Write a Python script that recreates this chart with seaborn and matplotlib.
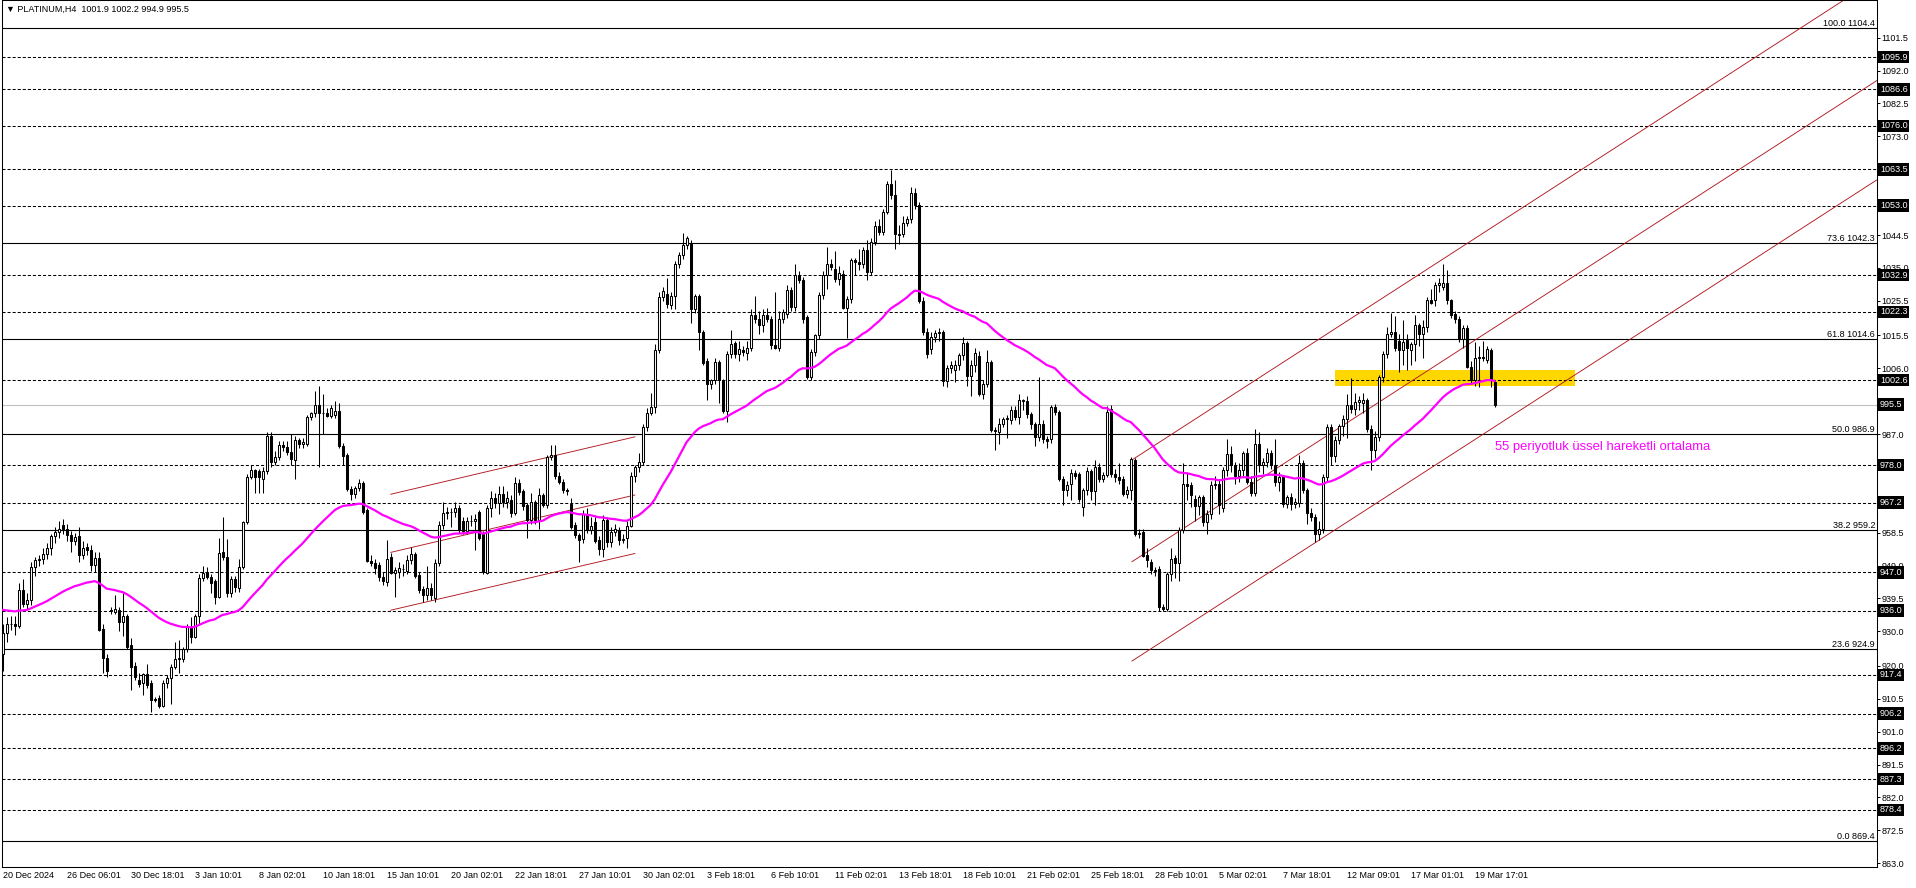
import numpy as np
import matplotlib
matplotlib.use('Agg')
import matplotlib.pyplot as plt
import matplotlib.transforms as mtransforms
import seaborn as sns

# ── Style ──────────────────────────────────────────────────────────────────────
sns.set_style('white')
plt.rcParams.update({
    'font.family': ['Liberation Sans', 'DejaVu Sans'],
    'axes.edgecolor': 'black', 'axes.linewidth': 0.75,
    'xtick.color': 'black', 'ytick.color': 'black',
    'text.color': 'black', 'lines.scale_dashes': False,
})
MAGENTA = '#FF00FF'; CHANNEL_RED = '#B01820'; GOLD = '#FFD700'; SILVER = '#C0C0C0'

# ── Data: PLATINUM H4 candles ──────────────────────────────────────────────────
opens = [
    923.5, 929.5, 932.0, 932.2, 931.5, 942.0, 938.0, 939.0, 948.7, 950.6,
    950.8, 952.2, 954.1, 957.5, 958.6, 960.6, 959.7, 957.8, 956.0, 957.4,
    952.0, 954.5, 953.5, 949.2, 951.2, 930.6, 922.4, 936.0, 935.5, 936.2,
    932.8, 934.3, 926.0, 920.0, 915.9, 915.2, 917.7, 915.0, 910.4, 910.6,
    908.4, 915.0, 916.4, 919.8, 921.9, 922.0, 925.0, 930.9, 928.5, 934.4,
    945.3, 947.2, 945.8, 944.4, 940.0, 953.0, 951.6, 941.0, 945.0, 942.5,
    948.7, 961.7, 974.7, 976.6, 976.4, 974.0, 976.4, 986.3, 979.0, 980.4,
    983.9, 983.3, 981.8, 979.6, 985.2, 984.0, 984.2, 991.9, 993.0, 995.3,
    993.0, 993.0, 992.3, 992.5, 993.7, 983.6, 980.9, 971.0, 969.6, 971.4,
    972.9, 965.0, 950.3, 949.8, 949.1, 945.7, 944.3, 951.5, 946.9, 947.0,
    947.9, 947.5, 950.6, 952.3, 946.2, 942.3, 940.4, 942.5, 939.5, 949.6,
    960.6, 964.2, 964.6, 964.6, 965.5, 962.0, 958.9, 961.8, 961.8, 964.5,
    958.2, 946.9, 965.5, 968.6, 967.0, 969.6, 967.3, 968.0, 964.2, 972.9,
    970.6, 966.4, 962.1, 967.4, 962.1, 969.3, 966.4, 980.4, 980.9, 974.8,
    973.2, 970.8, 966.7, 960.6, 957.8, 956.6, 964.0, 959.2, 961.6, 956.3,
    953.9, 962.3, 955.9, 958.6, 959.2, 956.5, 956.9, 960.5, 974.8, 977.5,
    979.0, 989.0, 993.1, 994.8, 1011.2, 1026.6, 1027.6, 1024.2, 1026.9, 1036.2,
    1038.6, 1041.5, 1041.8, 1023.2, 1026.9, 1016.5, 1008.1, 1001.6, 1002.5, 1007.8,
    1002.5, 993.8, 1010.2, 1013.3, 1010.0, 1011.2, 1010.5, 1012.0, 1021.3, 1020.3,
    1018.4, 1021.5, 1020.3, 1012.6, 1011.9, 1020.3, 1021.8, 1028.5, 1023.7, 1032.9,
    1031.6, 1020.8, 1003.5, 1010.7, 1015.5, 1027.1, 1032.9, 1036.2, 1034.8, 1031.9,
    1033.2, 1023.5, 1026.1, 1037.2, 1036.8, 1036.2, 1040.3, 1033.8, 1042.5, 1047.0,
    1045.4, 1051.2, 1059.2, 1056.0, 1044.9, 1044.9, 1048.0, 1049.2, 1056.6, 1053.1,
    1025.4, 1016.5, 1011.6, 1014.9, 1016.1, 1016.5, 1002.3, 1006.2, 1005.6, 1006.9,
    1009.7, 1013.3, 1003.9, 1006.9, 1009.5, 998.7, 1001.4, 1007.8, 988.3, 987.5,
    989.9, 991.3, 991.2, 993.9, 991.9, 996.7, 996.5, 992.9, 989.8, 986.2,
    989.8, 985.5, 985.7, 994.8, 993.4, 974.1, 970.7, 972.6, 975.7, 975.5,
    966.0, 970.7, 976.3, 970.6, 977.5, 974.1, 975.1, 994.3, 975.5, 974.5,
    974.1, 969.8, 970.7, 979.4, 958.0, 958.7, 952.0, 950.0, 947.6, 948.1,
    937.0, 936.5, 946.5, 951.3, 949.6, 959.2, 972.5, 972.2, 968.3, 966.1,
    968.8, 961.6, 963.8, 972.2, 972.6, 965.7, 976.7, 981.1, 978.2, 974.8,
    976.5, 981.5, 973.2, 970.0, 984.0, 978.0, 979.0, 981.5, 978.0, 973.2,
    974.6, 966.9, 968.8, 966.8, 967.0, 978.6, 970.8, 964.2, 963.0, 958.2,
    959.7, 974.6, 988.9, 980.6, 985.2, 989.2, 991.4, 995.3, 994.3, 996.2,
    996.0, 996.8, 988.6, 982.5, 986.2, 1003.5, 1010.2, 1016.0, 1016.4, 1013.9,
    1011.4, 1014.1, 1011.4, 1012.9, 1018.4, 1016.0, 1017.8, 1025.8, 1025.8, 1030.0,
    1029.5, 1030.5, 1025.6, 1021.8, 1020.3, 1014.6, 1017.7, 1006.4, 1002.5, 1009.1,
    1009.3, 1008.3, 1011.4, 1001.9,
]
highs = [
    932.0, 934.0, 934.5, 934.5, 944.0, 945.0, 941.0, 950.0, 951.5, 952.0,
    954.0, 955.5, 958.0, 960.0, 962.0, 962.4, 961.0, 959.0, 958.5, 960.0,
    956.0, 955.5, 955.0, 953.0, 953.0, 932.0, 923.5, 937.0, 940.5, 937.0,
    941.0, 935.0, 928.0, 921.0, 918.0, 918.0, 920.5, 916.0, 911.0, 911.5,
    916.0, 917.5, 920.5, 927.0, 927.5, 925.5, 932.0, 934.0, 935.0, 946.5,
    949.0, 948.5, 946.5, 945.0, 957.0, 963.0, 956.7, 946.0, 946.0, 951.0,
    962.0, 975.5, 978.0, 977.0, 977.0, 977.5, 987.5, 987.5, 982.0, 985.0,
    985.0, 985.0, 987.0, 986.5, 986.0, 986.0, 992.5, 993.5, 999.5, 1000.8,
    998.5, 994.5, 995.5, 996.5, 996.0, 984.5, 981.5, 972.0, 972.0, 974.0,
    973.5, 965.5, 952.0, 951.0, 950.0, 947.0, 956.5, 952.5, 948.5, 950.0,
    949.5, 952.0, 954.5, 953.0, 947.0, 943.0, 949.0, 944.0, 951.0, 962.0,
    967.5, 966.0, 965.5, 967.5, 966.5, 963.0, 963.0, 963.5, 964.0, 965.0,
    959.0, 966.5, 970.5, 970.0, 972.0, 972.0, 970.5, 969.5, 974.5, 974.0,
    971.0, 967.0, 970.0, 968.0, 971.5, 970.0, 981.0, 983.8, 983.8, 976.0,
    974.0, 971.5, 968.5, 961.5, 958.5, 965.0, 965.5, 963.0, 963.0, 957.5,
    963.5, 963.0, 960.0, 961.0, 960.0, 958.0, 962.0, 976.0, 978.0, 981.5,
    990.0, 994.5, 998.8, 1013.0, 1028.0, 1029.5, 1032.0, 1028.0, 1037.0, 1039.5,
    1045.0, 1044.2, 1043.0, 1027.5, 1027.5, 1017.0, 1009.0, 1003.0, 1009.0, 1008.5,
    1003.0, 1011.0, 1017.0, 1014.0, 1014.0, 1012.5, 1014.0, 1023.0, 1026.8, 1022.5,
    1023.0, 1023.5, 1021.0, 1028.0, 1022.5, 1023.0, 1030.0, 1029.5, 1036.0, 1034.0,
    1032.5, 1021.5, 1011.5, 1016.0, 1028.0, 1034.0, 1041.0, 1037.5, 1040.0, 1035.5,
    1034.5, 1027.0, 1038.0, 1038.0, 1040.5, 1041.0, 1043.0, 1043.5, 1048.5, 1049.0,
    1052.0, 1060.0, 1063.2, 1060.3, 1047.5, 1050.0, 1050.0, 1058.5, 1058.2, 1054.0,
    1026.5, 1017.5, 1016.5, 1017.0, 1017.5, 1017.0, 1007.0, 1008.0, 1008.5, 1010.5,
    1015.0, 1014.0, 1008.5, 1012.0, 1011.0, 1002.5, 1011.2, 1008.5, 989.0, 991.5,
    992.0, 992.5, 995.0, 995.0, 998.5, 997.0, 998.0, 993.5, 990.5, 1003.5,
    991.0, 986.5, 995.5, 995.8, 994.0, 975.0, 973.5, 977.0, 976.5, 976.0,
    971.5, 977.5, 977.0, 979.5, 978.5, 976.0, 995.0, 995.5, 977.0, 978.5,
    975.0, 972.0, 980.5, 980.0, 959.5, 959.5, 954.0, 951.0, 948.5, 949.0,
    938.0, 947.0, 954.0, 952.0, 960.0, 978.5, 976.0, 973.0, 969.5, 969.5,
    969.5, 965.0, 973.5, 975.0, 974.0, 977.5, 985.5, 983.5, 979.0, 978.5,
    982.0, 983.0, 975.0, 988.5, 987.5, 980.0, 983.0, 982.5, 985.5, 976.0,
    975.0, 969.5, 970.0, 968.5, 981.0, 979.5, 971.5, 965.5, 964.0, 962.0,
    975.5, 990.0, 990.0, 986.5, 990.0, 992.5, 998.5, 1003.3, 999.0, 998.0,
    999.0, 997.5, 989.5, 988.0, 1004.0, 1011.0, 1018.0, 1022.0, 1021.0, 1016.0,
    1020.0, 1016.0, 1013.5, 1021.5, 1019.0, 1020.0, 1026.5, 1029.0, 1031.0, 1032.0,
    1036.0, 1034.5, 1026.0, 1022.5, 1021.0, 1018.5, 1018.5, 1008.0, 1013.5, 1012.5,
    1014.0, 1012.5, 1012.0, 1002.2,
]
lows = [
    918.5, 927.0, 930.5, 929.0, 931.0, 937.0, 936.5, 937.5, 946.0, 949.0,
    949.5, 951.0, 952.0, 955.5, 957.0, 958.0, 956.0, 953.0, 955.0, 950.0,
    951.0, 952.0, 947.5, 947.0, 930.0, 918.0, 916.9, 935.0, 935.0, 930.0,
    928.6, 925.0, 913.0, 916.0, 914.0, 911.5, 913.5, 906.8, 909.5, 907.8,
    908.0, 913.5, 909.0, 919.0, 918.0, 921.0, 924.0, 926.5, 928.0, 932.0,
    944.5, 945.0, 941.0, 938.0, 939.5, 950.5, 940.0, 940.0, 941.5, 941.5,
    948.0, 961.0, 974.0, 970.0, 970.0, 970.0, 975.5, 977.6, 978.0, 979.5,
    982.0, 981.0, 978.0, 974.0, 983.0, 983.0, 983.5, 991.0, 992.0, 977.6,
    987.0, 992.0, 991.5, 991.5, 983.0, 978.0, 970.5, 968.0, 968.5, 970.5,
    964.0, 950.0, 949.0, 946.5, 944.5, 943.5, 943.0, 946.5, 940.0, 945.5,
    946.0, 946.5, 949.5, 945.5, 941.0, 938.5, 939.0, 939.0, 938.5, 949.0,
    959.5, 962.5, 960.0, 963.0, 958.5, 958.0, 958.0, 960.5, 953.5, 956.5,
    946.5, 946.5, 963.0, 965.5, 964.0, 966.0, 965.5, 963.0, 963.5, 969.5,
    965.0, 957.0, 961.0, 961.0, 959.5, 966.0, 965.5, 979.5, 974.0, 972.5,
    970.0, 969.5, 959.5, 957.0, 950.0, 955.5, 958.5, 958.0, 955.5, 952.0,
    951.5, 954.5, 954.5, 957.5, 955.0, 955.5, 954.0, 960.0, 973.0, 976.0,
    978.0, 988.0, 992.5, 993.0, 1010.5, 1025.5, 1023.5, 1023.0, 1023.2, 1035.0,
    1037.5, 1040.5, 1019.2, 1022.0, 1011.2, 1007.0, 996.7, 1000.0, 1001.5, 996.0,
    993.0, 990.5, 1009.0, 1009.0, 1008.0, 1009.5, 1008.5, 1011.0, 1019.0, 1016.0,
    1016.5, 1019.5, 1011.5, 1011.5, 1011.0, 1019.0, 1020.5, 1022.5, 1022.5, 1030.5,
    1019.0, 1002.8, 1002.5, 1009.5, 1014.5, 1026.0, 1029.0, 1034.5, 1031.0, 1030.0,
    1023.0, 1014.7, 1025.0, 1033.0, 1034.5, 1035.0, 1031.5, 1033.0, 1041.5, 1044.5,
    1044.5, 1050.5, 1055.0, 1040.5, 1042.0, 1044.0, 1047.0, 1048.0, 1052.0, 1025.0,
    1015.5, 1009.0, 1010.0, 1013.5, 1014.0, 1001.0, 1000.5, 1004.5, 1002.0, 1005.5,
    1008.5, 1001.0, 998.0, 1005.0, 998.0, 997.0, 1000.5, 987.5, 982.5, 984.0,
    989.0, 986.0, 990.0, 991.0, 990.0, 994.0, 991.5, 988.5, 983.5, 985.0,
    984.5, 983.0, 984.5, 992.5, 973.5, 966.5, 969.0, 968.0, 974.0, 967.5,
    963.3, 969.5, 968.0, 966.5, 973.0, 973.0, 974.5, 974.5, 973.0, 972.5,
    969.0, 968.5, 968.0, 957.5, 957.0, 951.5, 948.5, 946.5, 946.0, 936.0,
    936.0, 936.0, 944.5, 945.5, 944.5, 958.5, 968.0, 966.0, 962.0, 963.5,
    960.5, 958.0, 962.5, 971.0, 964.0, 964.5, 975.0, 976.0, 972.5, 973.0,
    975.0, 972.5, 969.0, 969.0, 976.0, 975.5, 977.5, 977.0, 972.0, 970.5,
    966.0, 965.5, 965.0, 965.5, 966.0, 970.0, 961.0, 962.0, 955.7, 956.5,
    958.5, 973.5, 978.0, 979.0, 984.0, 986.5, 986.0, 993.0, 992.5, 994.0,
    993.0, 987.5, 976.5, 980.0, 985.0, 1002.0, 1009.0, 1015.0, 1011.0, 1005.0,
    1007.0, 1005.5, 1007.0, 1008.0, 1012.5, 1009.0, 1016.5, 1024.5, 1024.0, 1028.0,
    1028.5, 1024.5, 1020.5, 1019.0, 1013.5, 1012.0, 1006.0, 1001.5, 1001.0, 1000.5,
    1008.0, 1007.5, 1000.5, 994.9,
]
closes = [
    929.5, 932.0, 932.2, 931.5, 942.0, 938.0, 939.0, 948.7, 950.6, 950.8,
    952.2, 954.1, 957.5, 958.6, 959.6, 959.7, 957.8, 956.0, 957.2, 952.0,
    954.0, 953.5, 949.2, 951.2, 930.4, 922.2, 918.4, 936.1, 936.5, 932.8,
    934.3, 925.6, 919.8, 916.7, 914.8, 917.7, 914.5, 910.2, 910.2, 908.4,
    915.0, 916.4, 919.8, 921.9, 922.3, 925.0, 931.3, 928.3, 934.3, 945.3,
    946.9, 945.8, 944.0, 940.0, 952.7, 951.6, 941.0, 945.0, 942.7, 948.7,
    961.7, 974.7, 976.6, 974.7, 974.5, 976.4, 986.3, 979.0, 980.4, 983.9,
    983.3, 981.8, 979.9, 985.2, 984.0, 984.6, 991.9, 993.0, 995.3, 993.0,
    993.0, 992.3, 994.5, 993.7, 983.6, 980.6, 971.0, 969.6, 971.4, 972.9,
    964.5, 950.3, 949.8, 948.3, 945.7, 944.6, 951.0, 946.9, 947.6, 948.3,
    947.9, 950.6, 952.3, 946.1, 941.9, 940.4, 942.5, 940.4, 949.6, 960.6,
    964.2, 964.6, 964.6, 965.5, 959.2, 958.9, 961.8, 962.0, 962.5, 957.1,
    947.2, 965.5, 968.6, 967.2, 969.6, 967.3, 968.5, 964.2, 972.9, 970.3,
    966.1, 962.1, 967.4, 962.1, 969.3, 966.4, 980.4, 980.9, 974.8, 973.2,
    970.8, 970.5, 960.2, 957.8, 956.5, 964.0, 959.2, 960.4, 956.1, 953.9,
    962.3, 955.9, 958.6, 959.5, 956.5, 956.8, 960.5, 974.8, 977.5, 979.0,
    989.0, 993.1, 994.8, 1011.2, 1026.6, 1028.3, 1024.5, 1026.9, 1036.2, 1038.6,
    1041.5, 1043.5, 1023.2, 1026.9, 1016.5, 1007.6, 1001.6, 1002.5, 1007.8, 1002.5,
    993.8, 1010.2, 1012.9, 1010.2, 1011.6, 1010.7, 1012.0, 1021.3, 1020.3, 1018.4,
    1021.5, 1020.3, 1012.6, 1011.9, 1020.3, 1022.3, 1028.5, 1023.7, 1032.9, 1031.6,
    1020.3, 1003.5, 1010.7, 1015.5, 1027.1, 1032.9, 1036.2, 1035.4, 1031.9, 1033.5,
    1023.5, 1026.1, 1037.2, 1036.8, 1036.2, 1040.3, 1033.8, 1042.5, 1047.0, 1045.4,
    1051.2, 1059.2, 1056.0, 1044.9, 1044.5, 1048.0, 1049.2, 1056.6, 1053.1, 1025.4,
    1016.5, 1010.2, 1014.9, 1016.1, 1016.5, 1002.3, 1006.2, 1006.9, 1006.9, 1009.7,
    1013.3, 1003.9, 1006.9, 1010.4, 998.7, 1001.4, 1007.8, 988.3, 988.0, 989.9,
    991.3, 991.7, 993.9, 991.9, 996.7, 996.5, 992.9, 989.8, 986.2, 989.8,
    985.5, 985.0, 994.8, 993.4, 974.1, 970.7, 972.3, 975.7, 975.0, 968.3,
    970.7, 976.3, 970.6, 977.5, 974.1, 975.1, 993.4, 975.5, 974.5, 973.8,
    969.8, 970.9, 979.9, 958.0, 958.4, 951.9, 950.6, 947.6, 947.3, 937.0,
    936.5, 946.5, 951.0, 949.6, 959.2, 972.5, 972.0, 969.3, 966.1, 968.8,
    961.6, 963.8, 972.2, 972.6, 966.5, 976.7, 981.1, 978.2, 974.8, 976.7,
    981.5, 973.2, 970.0, 984.0, 978.0, 979.0, 981.5, 978.2, 973.2, 974.6,
    966.9, 968.8, 966.8, 967.4, 978.6, 970.8, 964.2, 963.0, 958.2, 959.7,
    974.6, 988.9, 980.6, 985.2, 989.2, 991.4, 995.3, 994.3, 996.2, 996.8,
    996.8, 988.6, 982.5, 986.2, 1003.5, 1010.2, 1016.0, 1016.4, 1011.8, 1011.4,
    1013.6, 1011.9, 1012.9, 1018.4, 1016.0, 1017.8, 1025.8, 1025.0, 1030.0, 1030.5,
    1030.5, 1025.7, 1021.3, 1020.3, 1014.6, 1017.7, 1006.4, 1002.5, 1009.1, 1009.3,
    1009.0, 1011.7, 1002.7, 995.5,
]
assert len(opens) == len(highs) == len(lows) == len(closes), \
    (len(opens), len(highs), len(lows), len(closes))

# EMA(55): value on the first bar
ema_period = 55
ema_first = 936.2

# time axis
x_label_bars = [0, 16, 32, 48, 64, 80, 96, 112, 128, 144, 160, 176,
                192, 208, 224, 240, 256, 272, 288, 304, 320, 336, 352, 368]
x_labels = ['20 Dec 2024', '26 Dec 06:01', '30 Dec 18:01', '3 Jan 10:01',
            '8 Jan 02:01', '10 Jan 18:01', '15 Jan 10:01', '20 Jan 02:01',
            '22 Jan 18:01', '27 Jan 10:01', '30 Jan 02:01', '3 Feb 18:01',
            '6 Feb 10:01', '11 Feb 02:01', '13 Feb 18:01', '18 Feb 10:01',
            '21 Feb 02:01', '25 Feb 18:01', '28 Feb 10:01', '5 Mar 02:01',
            '7 Mar 18:01', '12 Mar 09:01', '17 Mar 01:01', '19 Mar 17:01']
x_range = [-0.15, 468.5]

# price axis
y_ticks = [1101.5, 1092.0, 1082.5, 1073.0, 1063.5, 1054.0, 1044.5, 1035.0,
           1025.5, 1015.5, 1006.0, 996.5, 987.0, 977.5, 968.0, 958.5, 949.0,
           939.5, 930.0, 920.0, 910.5, 901.0, 891.5, 882.0, 872.5, 863.0]
y_range = [862.0, 1112.4]

# horizontal support / resistance levels (dashed, with black price tags)
sr_levels = [1095.9, 1086.6, 1076.0, 1063.5, 1053.0, 1032.9, 1022.3, 1002.6,
             978.0, 967.2, 947.0, 936.0, 917.4, 906.2, 896.2, 887.3, 878.4]
last_price = 995.5

# fibonacci retracement
fib_pcts = [100.0, 73.6, 61.8, 50.0, 38.2, 23.6, 0.0]
fib_prices = [1104.4, 1042.3, 1014.6, 986.9, 959.2, 924.9, 869.4]

# highlighted zone
zone_bars = [333.1, 393.1]
zone_low, zone_high = 1000.9, 1005.5

# equidistant channels (start/end bar, prices)
small_ch_bars = [97.0, 158.1]
small_ch_upper = [969.6, 986.2]
small_ch_middle = [952.8, 969.4]
small_ch_lower = [936.1, 952.5]
big_ch_bars = [282.3, 468.5]
big_ch_upper = [979.5, 1118.5]
big_ch_middle = [950.1, 1089.1]
big_ch_lower = [921.4, 1060.4]

ema_note = '55 periyotluk üssel hareketli ortalama'
ema_note_at = (373.1, 983.2)
header = '\u25bc PLATINUM,H4  1001.9 1002.2 994.9 995.5'

# ── Derived ────────────────────────────────────────────────────────────────────
o = np.array(opens); h = np.array(highs); l = np.array(lows); c = np.array(closes)
bars = np.arange(len(c))
alpha = 2.0 / (ema_period + 1)
ema = [ema_first]
for close in c[1:]:
    ema.append(ema[-1] + alpha * (close - ema[-1]))
ema = np.array(ema)

# ── Figure ─────────────────────────────────────────────────────────────────────
W, H = 1916, 888
fig = plt.figure(figsize=(W / 100, H / 100), dpi=100)
ax = fig.add_axes([2 / W, (H - 866.7) / H, 1874.7 / W, 866.7 / H])
ax.set_xlim(*x_range); ax.set_ylim(*y_range)
ax.set_facecolor('white')

DASH = (0, (2.2, 1.45))
ax.fill_between(zone_bars, zone_low, zone_high, color=GOLD, lw=0, zorder=1)
for p in sr_levels:
    ax.axhline(p, color='black', lw=0.75, ls=DASH, zorder=2)
for p in fib_prices:
    ax.axhline(p, color='black', lw=0.8, zorder=2)
ax.axhline(last_price, color=SILVER, lw=0.8, zorder=2)

for xs, ys_list in [(small_ch_bars, [small_ch_upper, small_ch_middle, small_ch_lower]),
                    (big_ch_bars, [big_ch_upper, big_ch_middle, big_ch_lower])]:
    for ys in ys_list:
        ax.plot(xs, ys, color=CHANNEL_RED, lw=0.65, zorder=2.5)

# candles
up = c >= o
ax.vlines(bars, l, h, color='black', lw=0.75, zorder=3)
body_lo = np.minimum(o, c); body_h = np.abs(c - o)
ax.bar(bars[up], body_h[up], bottom=body_lo[up], width=0.5, color='white',
       edgecolor='black', linewidth=0.75, zorder=4)
ax.bar(bars[~up], body_h[~up], bottom=body_lo[~up], width=0.5, color='black',
       edgecolor='black', linewidth=0.75, zorder=4)

sns.lineplot(x=bars, y=ema, ax=ax, color=MAGENTA, linewidth=1.6, zorder=5)

ax.text(ema_note_at[0], ema_note_at[1], ema_note, color=MAGENTA, fontsize=9.4,
        ha='left', va='center', zorder=6)

# fib labels above each line, right aligned at the price axis
trans = mtransforms.blended_transform_factory(ax.transAxes, ax.transData)
for pct, p in zip(fib_pcts, fib_prices):
    ax.text(0.9991, p, f'{pct:.1f} {p:.1f}', transform=trans, ha='right',
            va='bottom', fontsize=6.5, zorder=6)

# axes / ticks
ax.yaxis.tick_right()
ax.set_yticks(y_ticks)
ax.set_yticklabels([f'{v:.1f}' for v in y_ticks])
ax.tick_params(axis='y', length=2.2, width=0.7, pad=1.4, labelsize=6.5)
ax.set_xticks(x_label_bars)
ax.set_xticklabels(x_labels, ha='left')
ax.tick_params(axis='x', length=2.2, width=0.7, pad=1.2, labelsize=6.5)
for s in ax.spines.values():
    s.set_color('black'); s.set_linewidth(0.75)

# black price tags on the axis
for p in sr_levels + [last_price]:
    ax.text(1.00176, p, f'{p:.1f}', transform=trans, ha='left', va='center',
            color='white', fontsize=6.5, clip_on=False, zorder=10,
            bbox=dict(boxstyle='square,pad=0.2', fc='black', ec='none'))

fig.text(6 / W, 1 - 9 / H, header, fontsize=6.5, ha='left', va='center')

fig.savefig('out.png', dpi=100, facecolor='white')
plt.close(fig)
